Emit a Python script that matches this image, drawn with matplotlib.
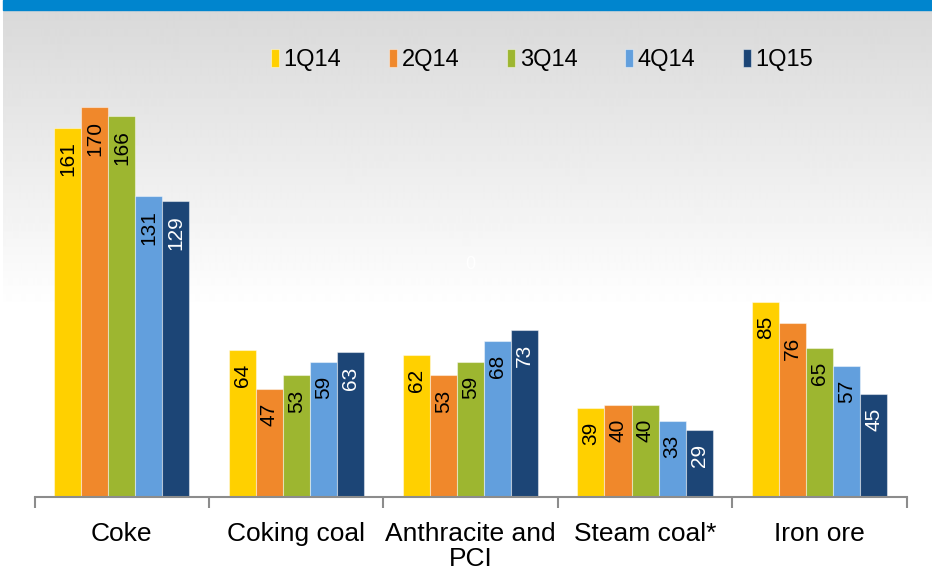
import numpy as np
import matplotlib
matplotlib.use("Agg")
import matplotlib.pyplot as plt
from matplotlib.patches import Rectangle

plt.rcParams['font.family'] = ['Liberation Sans', 'DejaVu Sans']

# Datos
categorias = ['Coke', 'Coking coal', 'Anthracite and\nPCI', 'Steam coal*', 'Iron ore']
trimestres = ['1Q14', '2Q14', '3Q14', '4Q14', '1Q15']
v_1q14 = [161, 64, 62, 39, 85]
v_2q14 = [170, 47, 53, 40, 76]
v_3q14 = [166, 53, 59, 40, 65]
v_4q14 = [131, 59, 68, 33, 57]
v_1q15 = [129, 63, 73, 29, 45]
series = [v_1q14, v_2q14, v_3q14, v_4q14, v_1q15]

colores = ['#FFD000', '#F0882B', '#9DB630', '#629FDD', '#1C4576']
color_texto = ['black', 'black', 'black', 'black', 'white']

W, H = 932, 571
fig = plt.figure(figsize=(W / 100, H / 100), dpi=100)

# Fondo con degradado gris
ax_bg = fig.add_axes([3 / W, 0, 1 - 3 / W, (H - 10) / H])
ax_bg.axis('off')
filas = H - 10
grad = np.ones(filas)
n = 300
grad[:n] = np.linspace(0.85, 1.0, n)
img = np.repeat(grad[:, None], 2, axis=1)
ax_bg.imshow(img, cmap='gray', vmin=0, vmax=1, aspect='auto', interpolation='bilinear')

# Barra azul superior
fig.patches.append(Rectangle((3 / W, (H - 10) / H), 1, 10 / H, transform=fig.transFigure,
                             color='#0085CE', zorder=5))

# Gráfico de barras
ax = fig.add_axes([34.5 / W, 74 / H, (906.7 - 34.5) / W, 413 / H])
ax.patch.set_alpha(0)
x = np.arange(len(categorias))
ancho = 0.155
for i, (vals, c) in enumerate(zip(series, colores)):
    pos = x + (i - 2) * ancho
    ax.bar(pos, vals, ancho, color=c, edgecolor=(1, 1, 1, 0.45),
           linewidth=0.8, label=trimestres[i])
    for xb, v in zip(pos, vals):
        ax.annotate(str(v), (xb, v), xytext=(0, -10), textcoords='offset points',
                    rotation=90, ha='center', va='top', fontsize=15,
                    color=color_texto[i])

ax.set_xlim(-0.5, len(categorias) - 0.5)
ax.set_ylim(0, 180)
ax.set_yticks([])
for s in ['left', 'top', 'right']:
    ax.spines[s].set_visible(False)
ax.spines['bottom'].set_color('#8c8c8c')
ax.spines['bottom'].set_linewidth(1.5)
ax.set_xticks(x)
ax.set_xticklabels(categorias, fontsize=19, linespacing=1.05)
ax.tick_params(axis='x', which='major', length=0, pad=18)
ax.set_xticks(np.arange(-0.5, len(categorias)), minor=True)
ax.tick_params(axis='x', which='minor', length=8, width=1.5, color='#8c8c8c')

leg = fig.legend(loc='center', bbox_to_anchor=(542 / W, 1 - 60 / H), ncol=5,
                 frameon=False, fontsize=17, handlelength=0.35, handleheight=0.8,
                 handletextpad=0.2, columnspacing=2.0)

# Etiqueta residual blanca
fig.text(470 / W, 1 - 265 / H, '0', color='white', fontsize=13, ha='center', va='center')

fig.savefig('out.png', dpi=100)
